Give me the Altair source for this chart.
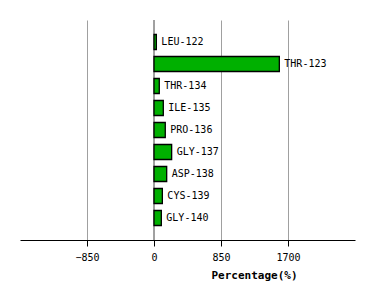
import altair as alt
import pandas as pd

residues = ["LEU-122", "THR-123", "THR-134", "ILE-135", "PRO-136",
            "GLY-137", "ASP-138", "CYS-139", "GLY-140"]
values = [30, 1590, 67, 118, 143, 224, 161, 106, 93]
ticks = [-850, 0, 850, 1700]

df = pd.DataFrame({"residue": residues, "value": values,
                   "row": list(range(1, len(residues) + 1))})

FONT = "DejaVu Sans Mono"

xscale = alt.Scale(domain=[-1700, 2550], nice=False, zero=False, padding=0)
x = alt.X("value:Q", scale=xscale,
          axis=alt.Axis(values=ticks, format="d", title="Percentage(%)", grid=True,
                        gridColor="#a0a0a0", gridOpacity=1, gridWidth=1,
                        domainColor="black", tickColor="black", tickSize=6,
                        labelFont=FONT, labelFontSize=10, labelColor="black",
                        labelPadding=6, titleFont=FONT, titleFontSize=11,
                        titleFontWeight="bold", titleColor="black",
                        titleX=234, titleY=38, titleAlign="center",
                        titleBaseline="alphabetic"))
y = alt.Y("row:Q", scale=alt.Scale(domain=[0, 10], reverse=True, nice=False,
                                   zero=False, padding=0),
          axis=None)

base = alt.Chart(df)

zero = base.mark_rule(color="#a0a0a0", strokeWidth=1).encode(
    x=alt.datum(0), y=alt.value(0), y2=alt.value(220))

bars = base.mark_bar(color="#00b000", stroke="black", strokeWidth=1.3, size=15,
                     orient="horizontal").encode(
    x=alt.X("value:Q", scale=xscale), x2=alt.datum(0), y=y)

labels = base.mark_text(align="left", baseline="middle", dx=5, font=FONT,
                        fontSize=10, color="black").encode(
    x=alt.X("value:Q"), y=y, text="residue:N")

axis_layer = base.mark_point(opacity=0).encode(x=x, y=y)

chart = alt.layer(axis_layer, zero, bars, labels).properties(
    width=335, height=220,
    autosize=alt.AutoSizeParams(type="none"),
    padding={"left": 20, "top": 20, "right": 19, "bottom": 60},
).configure(background="white").configure_view(strokeWidth=0, stroke=None)

chart.save("out.html", embed_options={"renderer": "svg", "actions": False})
